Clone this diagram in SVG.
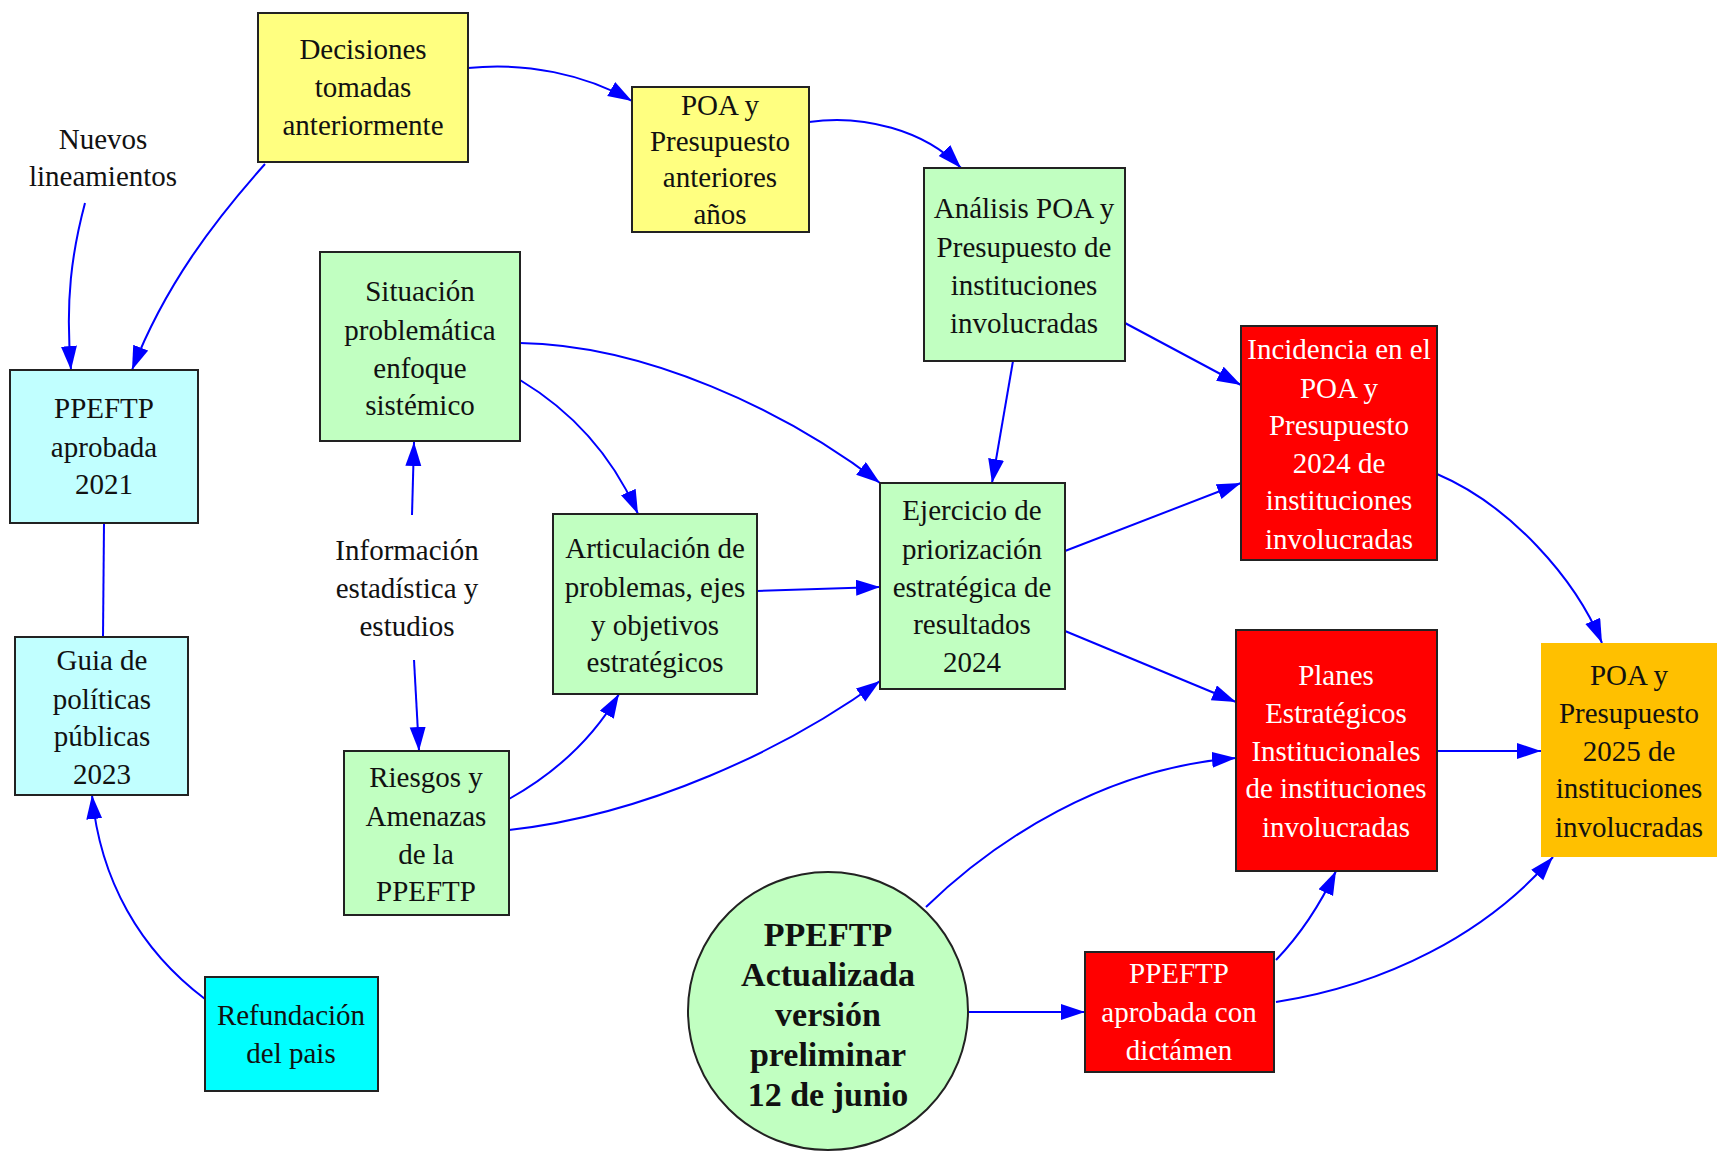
<svg xmlns="http://www.w3.org/2000/svg" width="1717" height="1151" viewBox="0 0 1717 1151">
<defs>
<marker id="ah" markerUnits="userSpaceOnUse" markerWidth="26" markerHeight="18" refX="24" refY="8" orient="auto">
<path d="M0,0 L24,8 L0,16 z" fill="#0000FF"/>
</marker>
<style>
.n{stroke:#222;stroke-width:2}
.y{fill:#FFFF80}
.g{fill:#C1FFC1}
.lc{fill:#C1FFFF}
.c{fill:#00FFFF}
.r{fill:#FF0000}
.o{fill:#FFC000}
text{font-family:"Liberation Serif","Times New Roman",serif;font-size:29px;text-anchor:middle;fill:#111}
.w{fill:#FFFFFF}
.b{font-weight:bold;font-size:34px}
.e{fill:none;stroke:#0000FF;stroke-width:2;marker-end:url(#ah)}
.e0{fill:none;stroke:#0000FF;stroke-width:2}
</style>
</defs>
<rect width="1717" height="1151" fill="#FFFFFF"/>

<g id="connectors">
<path class="e" d="M468,68 C525,62 585,74 632,101"/>
<path class="e" d="M809,122 C862,114 925,130 961,168"/>
<path class="e" d="M85,203 C72,252 65,300 71,370"/>
<path class="e" d="M265,164 C215,220 165,285 132,370"/>
<path class="e0" d="M104,523 L103,637"/>
<path class="e" d="M205,999 C140,950 100,880 92,795"/>
<path class="e" d="M412,515 L414,442"/>
<path class="e" d="M414,660 L419,751"/>
<path class="e" d="M520,380 C570,410 612,455 638,514"/>
<path class="e" d="M520,343 C645,345 785,410 880,483"/>
<path class="e" d="M1013,361 L992,483"/>
<path class="e" d="M1125,323 L1241,385"/>
<path class="e" d="M757,591 L880,587"/>
<path class="e" d="M509,799 C552,775 592,740 619,694"/>
<path class="e" d="M509,830 C645,815 785,750 880,681"/>
<path class="e" d="M1065,551 L1241,483"/>
<path class="e" d="M1065,631 L1236,702"/>
<path class="e" d="M1437,474 C1510,505 1575,578 1602,643"/>
<path class="e" d="M1437,751 L1541,751"/>
<path class="e" d="M926,907 C995,840 1105,768 1236,758"/>
<path class="e" d="M968,1012 L1085,1012"/>
<path class="e" d="M1276,960 C1300,935 1320,905 1336,871"/>
<path class="e" d="M1276,1002 C1385,985 1485,935 1553,857"/>
</g>

<g id="decisiones">
<rect class="n y" x="258" y="13" width="210" height="149"/>
<text x="363" y="59">Decisiones</text>
<text x="363" y="97">tomadas</text>
<text x="363" y="135">anteriormente</text>
</g>

<g id="poa-anteriores">
<rect class="n y" x="632" y="87" width="177" height="145"/>
<text x="720" y="115">POA y</text>
<text x="720" y="151">Presupuesto</text>
<text x="720" y="187">anteriores</text>
<text x="720" y="224">años</text>
</g>

<g id="analisis">
<rect class="n g" x="924" y="168" width="201" height="193"/>
<text x="1024" y="218">Análisis POA y</text>
<text x="1024" y="257">Presupuesto de</text>
<text x="1024" y="295">instituciones</text>
<text x="1024" y="333">involucradas</text>
</g>

<g id="nuevos-lineamientos">
<text x="103" y="149">Nuevos</text>
<text x="103" y="186">lineamientos</text>
</g>

<g id="ppeftp-2021">
<rect class="n lc" x="10" y="370" width="188" height="153"/>
<text x="104" y="418">PPEFTP</text>
<text x="104" y="457">aprobada</text>
<text x="104" y="494">2021</text>
</g>

<g id="guia">
<rect class="n lc" x="15" y="637" width="173" height="158"/>
<text x="102" y="670">Guia de</text>
<text x="102" y="709">políticas</text>
<text x="102" y="746">públicas</text>
<text x="102" y="784">2023</text>
</g>

<g id="refundacion">
<rect class="n c" x="205" y="977" width="173" height="114"/>
<text x="291" y="1025">Refundación</text>
<text x="291" y="1063">del pais</text>
</g>

<g id="situacion">
<rect class="n g" x="320" y="252" width="200" height="189"/>
<text x="420" y="301">Situación</text>
<text x="420" y="340">problemática</text>
<text x="420" y="378">enfoque</text>
<text x="420" y="415">sistémico</text>
</g>

<g id="informacion">
<text x="407" y="560">Información</text>
<text x="407" y="598">estadística y</text>
<text x="407" y="636">estudios</text>
</g>

<g id="riesgos">
<rect class="n g" x="344" y="751" width="165" height="164"/>
<text x="426" y="787">Riesgos y</text>
<text x="426" y="826">Amenazas</text>
<text x="426" y="864">de la</text>
<text x="426" y="901">PPEFTP</text>
</g>

<g id="articulacion">
<rect class="n g" x="553" y="514" width="204" height="180"/>
<text x="655" y="558">Articulación de</text>
<text x="655" y="597">problemas, ejes</text>
<text x="655" y="635">y objetivos</text>
<text x="655" y="672">estratégicos</text>
</g>

<g id="ejercicio">
<rect class="n g" x="880" y="483" width="185" height="206"/>
<text x="972" y="520">Ejercicio de</text>
<text x="972" y="559">priorización</text>
<text x="972" y="597">estratégica de</text>
<text x="972" y="634">resultados</text>
<text x="972" y="672">2024</text>
</g>

<g id="incidencia">
<rect class="n r" x="1241" y="326" width="196" height="234"/>
<text class="w" x="1339" y="359">Incidencia en el</text>
<text class="w" x="1339" y="398">POA y</text>
<text class="w" x="1339" y="435">Presupuesto</text>
<text class="w" x="1339" y="473">2024 de</text>
<text class="w" x="1339" y="510">instituciones</text>
<text class="w" x="1339" y="549">involucradas</text>
</g>

<g id="planes">
<rect class="n r" x="1236" y="630" width="201" height="241"/>
<text class="w" x="1336" y="685">Planes</text>
<text class="w" x="1336" y="723">Estratégicos</text>
<text class="w" x="1336" y="761">Institucionales</text>
<text class="w" x="1336" y="798">de instituciones</text>
<text class="w" x="1336" y="837">involucradas</text>
</g>

<g id="poa-2025">
<rect class="o" x="1541" y="643" width="176" height="214"/>
<text x="1629" y="685">POA y</text>
<text x="1629" y="723">Presupuesto</text>
<text x="1629" y="761">2025 de</text>
<text x="1629" y="798">instituciones</text>
<text x="1629" y="837">involucradas</text>
</g>

<g id="ppeftp-actualizada">
<ellipse class="n g" cx="828" cy="1011" rx="140" ry="139"/>
<text class="b" x="828" y="946">PPEFTP</text>
<text class="b" x="828" y="986">Actualizada</text>
<text class="b" x="828" y="1026">versión</text>
<text class="b" x="828" y="1066">preliminar</text>
<text class="b" x="828" y="1106">12 de junio</text>
</g>

<g id="ppeftp-dictamen">
<rect class="n r" x="1085" y="952" width="189" height="120"/>
<text class="w" x="1179" y="983">PPEFTP</text>
<text class="w" x="1179" y="1022">aprobada con</text>
<text class="w" x="1179" y="1060">dictámen</text>
</g>
</svg>
